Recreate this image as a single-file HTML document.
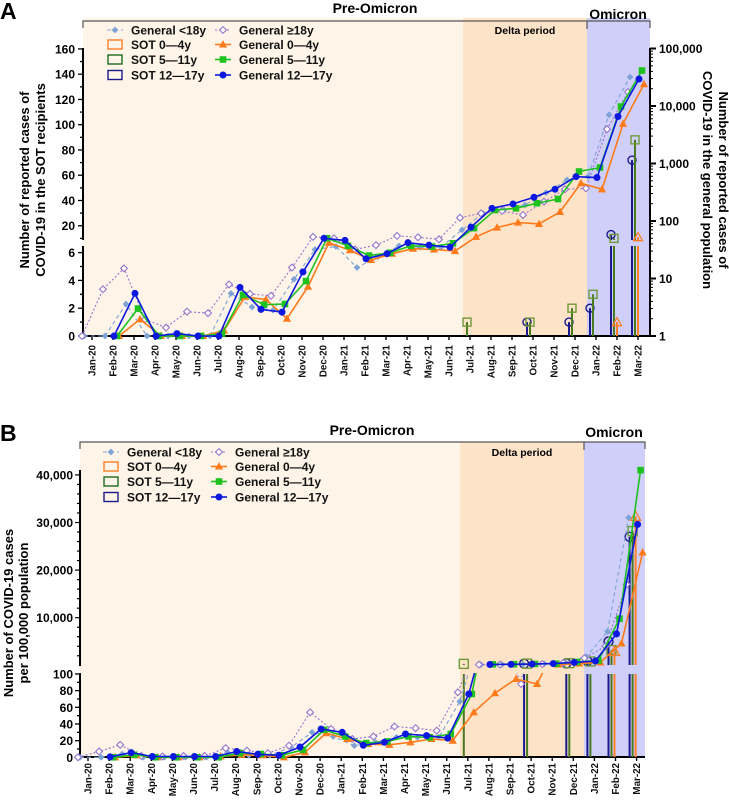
<!DOCTYPE html>
<html><head><meta charset="utf-8">
<style>
html,body{margin:0;padding:0;background:#fff;overflow:hidden;}
svg{display:block;font-family:"Liberation Sans",sans-serif;}
</style></head>
<body>
<svg id="chart" width="729" height="800" viewBox="0 0 729 800" xmlns="http://www.w3.org/2000/svg">
  <g id="gA"></g>
  <g id="gB"></g>
</svg>
<script>
// ---------- data ----------
const months = ["Jan-20","Feb-20","Mar-20","Apr-20","May-20","Jun-20","Jul-20","Aug-20","Sep-20","Oct-20","Nov-20","Dec-20","Jan-21","Feb-21","Mar-21","Apr-21","May-21","Jun-21","Jul-21","Aug-21","Sep-21","Oct-21","Nov-21","Dec-21","Jan-22","Feb-22","Mar-22"];
// Panel A: general population counts (log axis)
const aGenLt18 = [1,1,3.6,1,1,1,1,5.5,3.2,2.8,9.7,32,36,15.5,24,37,35,35,70,136,155,190,310,520,590,7000,32000];
const aGenGe18 = [1,6.5,15,1.95,1.4,2.65,2.5,7.9,5.4,5.0,15.5,53,50,32,38,55,52,48,114,136,150,127,217,356,370,3950,17500];
const aGen0to4 = [null,1,1.95,1,1,1,1.24,4.8,4.3,2.0,7.2,42,31,21,27,33,32,30,53,77,94,89,144,454,356,4900,24000];
const aGen5to11 = [null,1,3.0,1,1,1,1.1,5.2,3.5,3.6,9,50,37,25,28,37,36,41,75,155,166,204,241,725,850,9800,41400];
const aGen12to17 = [null,1,5.5,1,1.1,1,1,7,2.9,2.6,13,50,46,22,27,42,38,35,78,166,198,259,356,590,570,6560,29500];
// Panel A: SOT recipient counts (left broken axis); [monthIndex, value]
const aSot0to4 = [[25,1],[26,11]];
const aSot5to11 = [[18,1],[21,1],[23,2],[24,3],[25,10],[26,88]];
const aSot12to17 = [[21,1],[23,1],[24,2],[25,13],[26,72]];
// Panel B: per 100,000 population
const bGenLt18 = [0,0,4,0,0,0,0,5.6,2.4,2.4,12,30,25,14,18,24,24,24,67,150,180,220,320,560,1800,7100,31000];
const bGenGe18 = [0,7,15,1.6,1,1.6,1.6,11,8,5,14,54,34,22,25,37,35,32,78,140,150,88,260,500,1500,4000,17000];
const bGen0to4 = [null,0,2.4,0,0,0,1,3,2.4,0,6,29,22,16,15,18,22,20,54,77,94,88,140,350,600,4600,23700];
const bGen5to11 = [null,0,3,0,0,0,0,5,4,2.4,9,33,25,17,19,25,24,28,76,200,230,280,330,700,1000,9800,41000];
const bGen12to17 = [null,0.5,5.6,1,1,1,1,7,3.6,2.4,12.4,34,30,14.4,18,28,26,23,76,170,200,260,360,600,900,6600,29600];
const bSot0to4 = [[25,2900],[26,31300]];
const bSot5to11 = [[18,300],[21,350],[23,450],[24,800],[25,3200],[26,28200]];
const bSot12to17 = [[21,350],[23,400],[24,900],[25,5000],[26,27000]];
const aLeftLowTicks = [0,2,4,6];
const aLeftHighTicks = [20,40,60,80,100,120,140,160];
const aRightTicks = [1,10,100,1000,10000,100000];
const aRightTickLabels = ["1","10","100","1,000","10,000","100,000"];
const bLowTicks = [0,20,40,60,80,100];
const bHighTicks = [10000,20000,30000,40000];
const bHighTickLabels = ["10,000","20,000","30,000","40,000"];

// ---------- helpers ----------
const NS="http://www.w3.org/2000/svg";
function mk(parent,tag,attrs,text){const e=document.createElementNS(NS,tag);for(const k in attrs)e.setAttribute(k,attrs[k]);if(text!==undefined)e.textContent=text;parent.appendChild(e);return e;}
const C={lt18:"#7fa3d6",ge18:"#9474cc",g04:"#ff7a1a",g511:"#1ec21e",g1217:"#0c18e0",s04:"#ff7f2a",s511:"#6f9a3a",s1217:"#1a1a8c",s511bar:"#4a7a20"};

function marker(g,type,x,y,color,fill,sz){
  let e;
  if(type==="diamond"){e=mk(g,"polygon",{points:`${x},${y-sz} ${x+sz},${y} ${x},${y+sz} ${x-sz},${y}`,fill:fill,stroke:color,"stroke-width":1.1});}
  else if(type==="square"){e=mk(g,"rect",{x:x-sz,y:y-sz,width:2*sz,height:2*sz,fill:fill,stroke:color,"stroke-width":1.4});}
  else if(type==="circle"){e=mk(g,"circle",{cx:x,cy:y,r:sz,fill:fill,stroke:color,"stroke-width":1.4});}
  else {e=mk(g,"polygon",{points:`${x},${y-sz} ${x+sz},${y+sz*0.8} ${x-sz},${y+sz*0.8}`,fill:fill,stroke:color,"stroke-width":1.3});}
  return e;
}

const seriesDefs=[
 {key:"lt18",name:"general-under-18",color:C.lt18,dash:"4,3",mt:"diamond",fill:C.lt18,sz:2.6,off:-8},
 {key:"ge18",name:"general-18-plus",color:C.ge18,dash:"2,2",mt:"diamond",fill:"#fff",sz:3.4,off:-10},
 {key:"g04",name:"general-0-4",color:C.g04,dash:null,mt:"tri",fill:C.g04,sz:3,off:6},
 {key:"g511",name:"general-5-11",color:C.g511,dash:null,mt:"square",fill:C.g511,sz:2.6,off:4},
 {key:"g1217",name:"general-12-17",color:C.g1217,dash:null,mt:"circle",fill:C.g1217,sz:2.8,off:1}
];

function drawSeries(g,vals,def,xf,yf,clip,minV){
  const sg=mk(g,"g",{});
  
  
  if(clip) sg.setAttribute("clip-path",`url(#${clip})`);
  const ok=v=>v!==null && (minV===undefined || v>minV);
  let d="";let started=false;
  vals.forEach((v,i)=>{if(!ok(v)){started=false;return;}const x=xf(i)+def.off,y=yf(v);d+=(started?"L":"M")+x.toFixed(1)+","+y.toFixed(1);started=true;});
  const p=mk(sg,"path",{d:d,fill:"none",stroke:def.color,"stroke-width":def.dash?1.1:1.6});
  if(def.dash)p.setAttribute("stroke-dasharray",def.dash);
  vals.forEach((v,i)=>{if(!ok(v))return;const m=marker(sg,def.mt,xf(i)+def.off,yf(v),def.color,def.fill,def.sz);
    
    });
}

function legend(g,x0,y0){
  const lg=mk(g,"g",{});
  
  
  const left=[["General <18y","lt18"],["SOT 0\u20144y","s04"],["SOT 5\u201411y","s511"],["SOT 12\u201417y","s1217"]];
  const right=[["General \u226518y","ge18"],["General 0\u20144y","g04"],["General 5\u201411y","g511"],["General 12\u201417y","g1217"]];
  function entry(lbl,key,x,y){
    const eg=mk(lg,"g",{});
    
    
    if(key.startsWith("s")){
      const col=key==="s04"?C.s04:key==="s511"?"#1f6a1f":C.s1217;
      mk(eg,"rect",{x:x-7,y:y-4.5,width:14,height:9,fill:"none",stroke:col,"stroke-width":1.4});
    } else {
      const def=seriesDefs.find(s=>s.key===key);
      const l=mk(eg,"line",{x1:x-8,y1:y,x2:x+8,y2:y,stroke:def.color,"stroke-width":def.dash?1.1:1.6});
      if(def.dash)l.setAttribute("stroke-dasharray",def.dash);
      marker(eg,def.mt,x,y,def.color,def.fill,def.sz);
    }
    mk(eg,"text",{x:x+16,y:y+4.5,"font-size":12,"font-weight":"bold",fill:"#111"},lbl);
  }
  const rows=[0,14.5,29.5,45];
  left.forEach((r,i)=>entry(r[0],r[1],x0,y0+rows[i]));
  right.forEach((r,i)=>entry(r[0],r[1],x0+108,y0+rows[i]));
}

function monthLabels(g,xf,yAxis,labTop){
  months.forEach((m,i)=>{
    const x=xf(i);
    mk(g,"line",{x1:x,y1:yAxis,x2:x,y2:yAxis+4,stroke:"#000","stroke-width":1.4});
    const t=mk(g,"text",{transform:`translate(${x+3.5},${labTop}) rotate(-90)`,"text-anchor":"end","font-size":9.8,"font-weight":"bold",fill:"#111"},m);
    
    
  });
}

function periodBands(g,x0,x1,x2,x3,yTop,yBot,bracketY,preX,omX,titleY,omY,deltaY){
  mk(g,"rect",{x:x0,y:yTop,width:x1-x0,height:yBot-yTop,fill:"#fef4e7"});
  mk(g,"rect",{x:x1,y:yTop,width:x2-x1,height:yBot-yTop,fill:"#fde4c9"});
  mk(g,"rect",{x:x2,y:yTop,width:x3-x2,height:yBot-yTop,fill:"#cfcff9"});
  mk(g,"path",{d:`M${x0},${bracketY+7}V${bracketY}H${x3}V${bracketY+7}M${x2},${bracketY}V${bracketY+8}`,fill:"none",stroke:"#555","stroke-width":1.2});
  mk(g,"text",{x:preX,y:titleY,"text-anchor":"middle","font-size":14,"font-weight":"bold"},"Pre-Omicron");
  mk(g,"text",{x:omX,y:omY,"text-anchor":"middle","font-size":14,"font-weight":"bold"},"Omicron");
  mk(g,"text",{x:(x1+x2)/2,y:deltaY,"text-anchor":"middle","font-size":10.5,"font-weight":"bold"},"Delta period");
}

const defs=mk(document.getElementById("chart"),"defs",{});
const cp1=mk(defs,"clipPath",{id:"bLow"});mk(cp1,"rect",{x:70,y:673,width:600,height:90});
const cp2=mk(defs,"clipPath",{id:"bHigh"});mk(cp2,"rect",{x:70,y:445,width:600,height:225});

// ================= PANEL A =================
(function(){
const g=document.getElementById("gA");
const xA=i=>92+21*i;
const yR=v=>336-57.5*Math.log10(Math.max(v,1));
const yL=v=>v<=6?336-13.9*v:251-1.263*v;
periodBands(g,83,463,587,650,18,336,21,375,618,13,19,34);
mk(g,"text",{x:0,y:19,"font-size":23,"font-weight":"bold"},"A");
legend(g,115,30);
const ax=mk(g,"g",{stroke:"#000","stroke-width":2});


mk(ax,"line",{x1:83,y1:336,x2:650,y2:336});
mk(ax,"line",{x1:83,y1:246,x2:83,y2:337});
mk(ax,"line",{x1:83,y1:48,x2:83,y2:240});
mk(ax,"line",{x1:650,y1:48,x2:650,y2:337});
for(let v=0;v<=6;v++)mk(ax,"line",{x1:v%2?80:78,y1:yL(v),x2:83,y2:yL(v),"stroke-width":1.3});
for(let v=10;v<=160;v+=10)mk(ax,"line",{x1:v%20?80:78,y1:yL(v),x2:83,y2:yL(v),"stroke-width":1.3});
aLeftLowTicks.forEach(v=>mk(g,"text",{x:75,y:yL(v)+4.5,"text-anchor":"end","font-size":12,"font-weight":"bold"},v));
aLeftHighTicks.forEach(v=>mk(g,"text",{x:75,y:yL(v)+4.5,"text-anchor":"end","font-size":12,"font-weight":"bold"},v));
for(let d=0;d<5;d++)for(let k=2;k<10;k++)mk(ax,"line",{x1:650,y1:yR(k*Math.pow(10,d)),x2:653,y2:yR(k*Math.pow(10,d)),"stroke-width":1});
aRightTicks.forEach((v,i)=>{mk(ax,"line",{x1:650,y1:yR(v),x2:656,y2:yR(v)});
  mk(g,"text",{x:659,y:yR(v)+4.5,"font-size":12,"font-weight":"bold"},aRightTickLabels[i]);});
monthLabels(g,xA,336,345);
const yt=mk(g,"text",{transform:"translate(29,180) rotate(-90)","text-anchor":"middle","font-size":13,"font-weight":"bold"});

mk(yt,"tspan",{x:0,dy:0},"Number of reported cases of");
mk(yt,"tspan",{x:0,dy:16},"COVID-19 in the SOT recipients");
const yr=mk(g,"text",{transform:"translate(719,180) rotate(90)","text-anchor":"middle","font-size":13,"font-weight":"bold"});

mk(yr,"tspan",{x:0,dy:0},"Number of reported cases of");
mk(yr,"tspan",{x:0,dy:16},"COVID-19 in the general population");
function sot(arr,type,col,barCol,off,name){
  arr.forEach(([i,v])=>{
    const x=xA(i)+off,y=yL(v);
    if(v<=6)mk(g,"line",{x1:x,y1:336,x2:x,y2:y,stroke:barCol,"stroke-width":2});
    else{mk(g,"line",{x1:x,y1:336,x2:x,y2:246,stroke:barCol,"stroke-width":2});mk(g,"line",{x1:x,y1:240,x2:x,y2:y,stroke:barCol,"stroke-width":2});}
  });
  arr.forEach(([i,v])=>{const m=marker(g,type,xA(i)+off,yL(v),col,"none",type==="tri"?4.5:4);
    
    });
}
sot(aSot12to17,"circle",C.s1217,C.s1217,-6,'sot-12-17-marker');
sot(aSot5to11,"square",C.s511,C.s511bar,-3,'sot-5-11-marker');
sot(aSot0to4,"tri",C.s04,C.s04,0,'sot-0-4-marker');
const vals={lt18:aGenLt18,ge18:aGenGe18,g04:aGen0to4,g511:aGen5to11,g1217:aGen12to17};
seriesDefs.forEach(d=>drawSeries(g,vals[d.key],d,xA,yR,null));
})();

// ================= PANEL B =================
(function(){
const g=document.getElementById("gB");
const xB=i=>88+21.1*i;
const yLo=v=>757.3-0.833*v;
const yHi=v=>665.3-0.00476*v;
const yAny=v=>v<=100?yLo(v):yHi(v);
periodBands(g,80,460,584,645,442,757,442,372,614,435,437,456);
mk(g,"text",{x:0,y:441,"font-size":23,"font-weight":"bold"},"B");
legend(g,111,452);
const ax=mk(g,"g",{stroke:"#000","stroke-width":2});


mk(ax,"line",{x1:80,y1:757,x2:645,y2:757});
mk(ax,"line",{x1:80,y1:673,x2:80,y2:758});
mk(ax,"line",{x1:80,y1:470,x2:80,y2:666});
for(let v=0;v<=100;v+=10)mk(ax,"line",{x1:v%20?77:75,y1:yLo(v),x2:80,y2:yLo(v),"stroke-width":1.3});
for(let v=2000;v<=40000;v+=2000)mk(ax,"line",{x1:v%10000?77:75,y1:yHi(v),x2:80,y2:yHi(v),"stroke-width":1.2});
bLowTicks.forEach(v=>mk(g,"text",{x:73,y:yLo(v)+4.5,"text-anchor":"end","font-size":12,"font-weight":"bold"},v));
bHighTicks.forEach((v,i)=>mk(g,"text",{x:73,y:yHi(v)+4.5,"text-anchor":"end","font-size":12,"font-weight":"bold"},bHighTickLabels[i]));
monthLabels(g,xB,757,763);
const yt=mk(g,"text",{transform:"translate(13,613) rotate(-90)","text-anchor":"middle","font-size":13,"font-weight":"bold"});

mk(yt,"tspan",{x:0,dy:0},"Number of COVID-19 cases");
mk(yt,"tspan",{x:0,dy:15},"per 100,000 population");
function sot(arr,type,col,barCol,off,name){
  arr.forEach(([i,v])=>{
    const x=xB(i)+off,y=yAny(v);
    if(v<=100)mk(g,"line",{x1:x,y1:757,x2:x,y2:y,stroke:barCol,"stroke-width":2});
    else{mk(g,"line",{x1:x,y1:757,x2:x,y2:674,stroke:barCol,"stroke-width":2});mk(g,"line",{x1:x,y1:665,x2:x,y2:y,stroke:barCol,"stroke-width":2});}
  });
  arr.forEach(([i,v])=>{const m=marker(g,type,xB(i)+off,yAny(v),col,"none",type==="tri"?5:4.5);
    
    });
}
sot(bSot12to17,"circle",C.s1217,C.s1217,-7,'sot-12-17-marker');
sot(bSot5to11,"square",C.s511,C.s511bar,-4,'sot-5-11-marker');
sot(bSot0to4,"tri",C.s04,C.s04,-1,'sot-0-4-marker');
const vals={lt18:bGenLt18,ge18:bGenGe18,g04:bGen0to4,g511:bGen5to11,g1217:bGen12to17};
seriesDefs.forEach(d=>{drawSeries(g,vals[d.key],d,xB,yLo,"bLow");drawSeries(g,vals[d.key],d,xB,yHi,"bHigh",100);});
})();
</script>
</body></html>
